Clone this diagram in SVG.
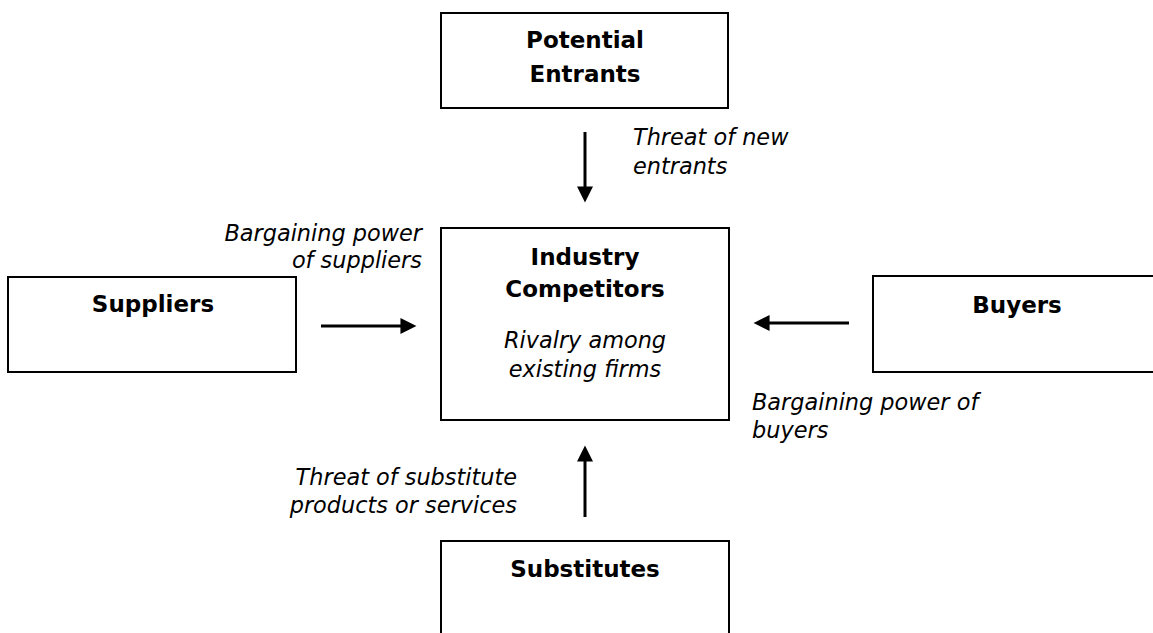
<svg xmlns="http://www.w3.org/2000/svg" width="1153" height="633" viewBox="0 0 1153 633">
  <style>
    .box { fill: #ffffff; stroke: #000000; stroke-width: 2; }
    .title { font-family: "DejaVu Sans", Verdana, sans-serif; font-weight: bold; font-size: 23px; fill: #000000; text-anchor: middle; }
    .lbl { font-family: "DejaVu Sans", Verdana, sans-serif; font-style: italic; font-size: 22.4px; fill: #000000; }
    .conn { stroke: #000000; stroke-width: 3; fill: none; marker-end: url(#arrow); }
  </style>
  <defs>
    <marker id="arrow" viewBox="0 0 10 10" markerWidth="17" markerHeight="16" markerUnits="userSpaceOnUse" refX="4.12" refY="5" orient="auto">
      <path d="M0,0 L10,5 L0,10 z" fill="#000000"/>
    </marker>
  </defs>
  <rect width="1153" height="633" fill="#ffffff"/>

  <g id="potential-entrants">
    <rect class="box" x="441" y="13" width="287" height="95"/>
    <text class="title" x="585" y="48">Potential</text>
    <text class="title" x="585" y="82">Entrants</text>
  </g>

  <g id="industry-competitors">
    <rect class="box" x="441" y="228" width="288" height="192"/>
    <text class="title" x="585" y="265">Industry</text>
    <text class="title" x="585" y="297">Competitors</text>
    <text class="lbl" x="585" y="348" text-anchor="middle">Rivalry among</text>
    <text class="lbl" x="585" y="377" text-anchor="middle">existing firms</text>
  </g>

  <g id="suppliers">
    <rect class="box" x="8" y="277" width="288" height="95"/>
    <text class="title" x="153" y="312">Suppliers</text>
  </g>

  <g id="buyers">
    <rect class="box" x="873" y="276" width="288" height="96"/>
    <text class="title" x="1017" y="313">Buyers</text>
  </g>

  <g id="substitutes">
    <rect class="box" x="441" y="541" width="288" height="110"/>
    <text class="title" x="585" y="577">Substitutes</text>
  </g>

  <g id="connectors">
    <line class="conn" x1="585" y1="132" x2="585" y2="193"/>
    <line class="conn" x1="321" y1="326" x2="407" y2="326"/>
    <line class="conn" x1="849" y1="323" x2="763" y2="323"/>
    <line class="conn" x1="585" y1="517" x2="585" y2="455"/>
  </g>

  <g id="labels">
    <text class="lbl" x="633" y="145">Threat of new</text>
    <text class="lbl" x="633" y="174">entrants</text>
    <text class="lbl" x="422" y="241" text-anchor="end">Bargaining power</text>
    <text class="lbl" x="422" y="268" text-anchor="end">of suppliers</text>
    <text class="lbl" x="752" y="410">Bargaining power of</text>
    <text class="lbl" x="752" y="438">buyers</text>
    <text class="lbl" x="517" y="485" text-anchor="end">Threat of substitute</text>
    <text class="lbl" x="517" y="513" text-anchor="end">products or services</text>
  </g>
</svg>
